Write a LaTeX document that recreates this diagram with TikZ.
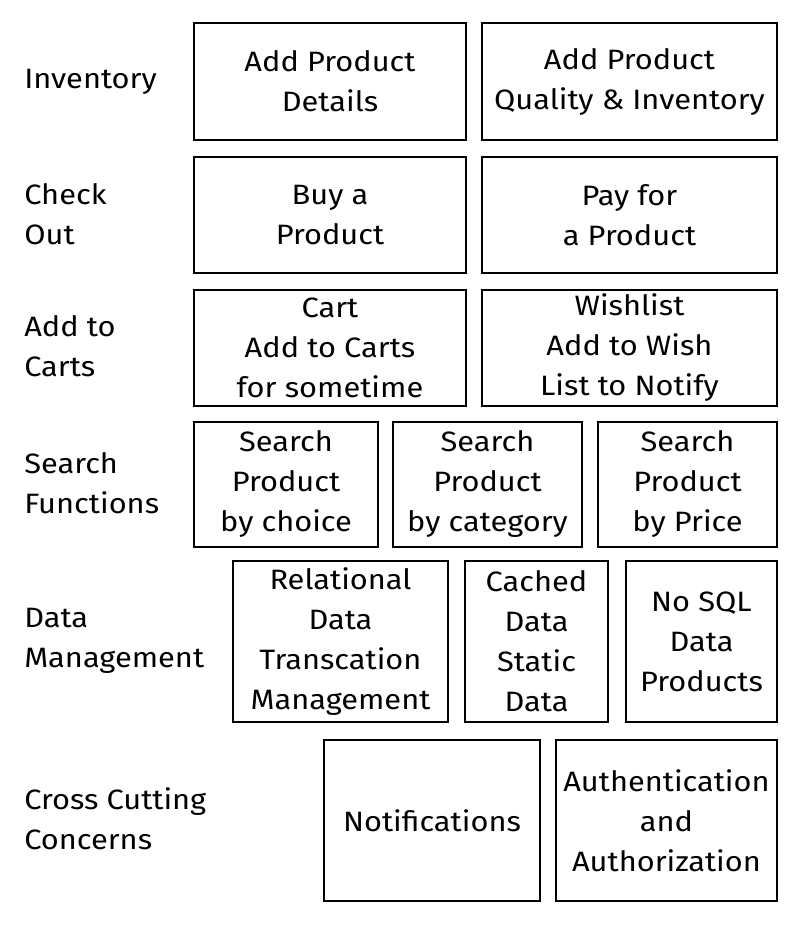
\documentclass[tikz,border=0pt]{standalone}
\usepackage{fontspec}
\setmainfont[FakeStretch=1.1]{Fira Sans}
\begin{document}
\begin{tikzpicture}[
    x=0.75pt, y=-0.75pt,
    % Common Styles
    box/.style={
        draw=black,
        line width=1.1pt,
        rectangle,
        align=center,
        inner sep=0pt,
        font=\fontsize{21}{30}\selectfont
    },
    row_text/.style={
        anchor=west,
        align=left,
        inner sep=0pt,
        font=\fontsize{21}{30}\selectfont
    }
]
    \useasboundingbox (0,0) rectangle (801,925);

    % ================= ROW LABELS =================
    \node[row_text] (lInv)    at (24, 82)  {Inventory};
    \node[row_text] (lCheck)  at (24, 214) {Check\\Out};
    \node[row_text] (lCart)   at (24, 346) {Add to\\Carts};
    \node[row_text] (lSearch) at (24, 483) {Search\\Functions};
    \node[row_text] (lData)   at (24, 641) {Data\\Management};
    \node[row_text] (lCross)  at (24, 819) {Cross Cutting\\Concerns};

    % ================= INVENTORY =================
    \node[box, minimum width=204pt, minimum height=88pt] (invDetails) at (330, 81.5)
        {Add Product\\Details};
    \node[box, minimum width=221pt, minimum height=88pt] (invQuality) at (629.5, 81.5)
        {Add Product\\Quality \& Inventory};

    % ================= CHECK OUT =================
    \node[box, minimum width=204pt, minimum height=87pt] (buy) at (330, 215)
        {Buy a\\Product};
    \node[box, minimum width=221pt, minimum height=87pt] (pay) at (629.5, 215)
        {Pay for\\a Product};

    % ================= ADD TO CARTS =================
    \node[box, minimum width=204pt, minimum height=87pt] (cart) at (330, 348)
        {Cart\\Add to Carts\\for sometime};
    \node[box, minimum width=221pt, minimum height=87pt] (wish) at (629.5, 348)
        {Wishlist\\Add to Wish\\List to Notify};

    % ================= SEARCH =================
    \node[box, minimum width=138pt, minimum height=94pt] (sChoice) at (286, 484.5)
        {Search\\Product\\by choice};
    \node[box, minimum width=142pt, minimum height=94pt] (sCat) at (487.5, 484.5)
        {Search\\Product\\by category};
    \node[box, minimum width=134pt, minimum height=94pt] (sPrice) at (687.5, 484.5)
        {Search\\Product\\by Price};

    % ================= DATA MANAGEMENT =================
    \node[box, minimum width=161pt, minimum height=121pt] (relational) at (340.5, 641.5)
        {Relational\\Data\\Transcation\\Management};
    \node[box, minimum width=107pt, minimum height=121pt] (cached) at (536.5, 641.5)
        {Cached\\Data\\Static\\Data};
    \node[box, minimum width=113pt, minimum height=121pt] (nosql) at (701.5, 641.5)
        {No SQL\\Data\\Products};

    % ================= CROSS CUTTING =================
    \node[box, minimum width=162pt, minimum height=121pt] (notify) at (432, 820.5)
        {Notifications};
    \node[box, minimum width=166pt, minimum height=121pt] (auth) at (666.5, 820.5)
        {Authentication\\and\\Authorization};

\end{tikzpicture}
\end{document}
